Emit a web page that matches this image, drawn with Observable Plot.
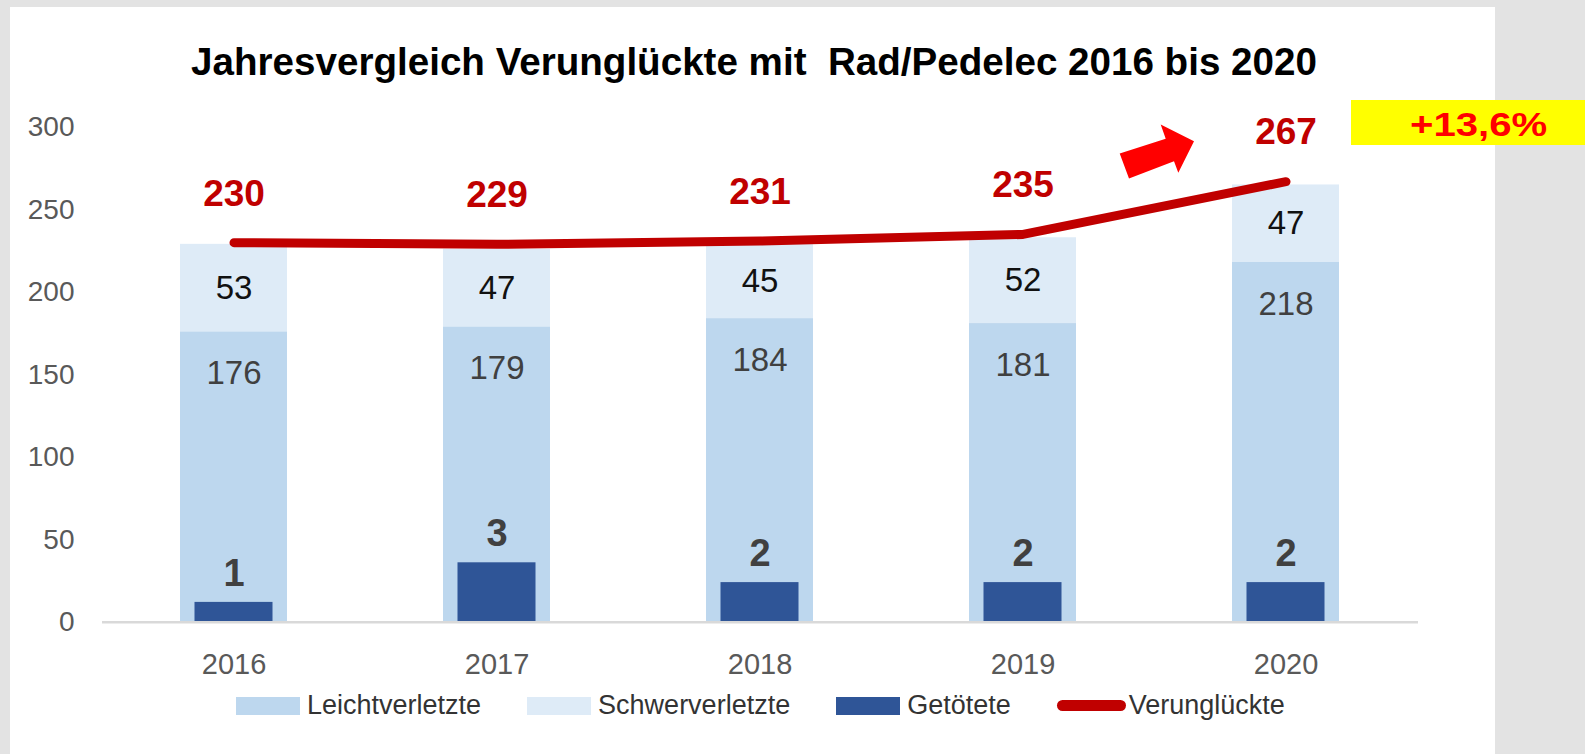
<!DOCTYPE html>
<html>
<head>
<meta charset="utf-8">
<script src="https://cdn.jsdelivr.net/npm/d3@7"></script>
<script src="https://cdn.jsdelivr.net/npm/@observablehq/plot@0.6"></script>
<style>
  html, body { margin: 0; padding: 0; }
  body { width: 1585px; height: 754px; background: #e3e3e3; overflow: hidden; position: relative;
         font-family: "Liberation Sans", Arial, sans-serif; }
  #panel { position: absolute; left: 10px; top: 7px; width: 1485px; height: 747px; background: #ffffff; }
  #chart { position: absolute; left: 0; top: 0; }
  #title { position: absolute; left: 0; width: 1508px; top: 43px; text-align: center; font-weight: bold;
           font-size: 38.6px; line-height: 38px; color: #000; white-space: pre; }
  #legend { position: absolute; left: 236px; top: 692px; height: 27px; display: flex; align-items: center; }
  .item { display: flex; align-items: center; margin-right: 46px; }
  .swatch { width: 64px; height: 18px; margin-right: 7px; }
  .lineSwatch { width: 69px; height: 11px; border-radius: 6px; margin-right: 3px; }
  .lab { font-size: 27px; line-height: 27px; color: #333; }
  #badge { position: absolute; left: 1351px; top: 100px; width: 234px; height: 45px; background: #ffff00; }
  #badge span { position: absolute; left: 59px; top: 7px; font-size: 34px; line-height: 34px; font-weight: bold;
                color: #ff0000; transform: scaleX(1.18); transform-origin: left center; white-space: nowrap; }
</style>
</head>
<body>
<div id="panel"></div>
<div id="chart"></div>
<div id="title"></div>
<div id="legend"></div>
<div id="badge"><span></span></div>
<script>
// ---- data ----
const title = "Jahresvergleich Verunglückte mit  Rad/Pedelec 2016 bis 2020";
const years = ["2016", "2017", "2018", "2019", "2020"];
const leichtverletzte = [176, 179, 184, 181, 218];
const schwerverletzte = [53, 47, 45, 52, 47];
const getoetete = [1, 3, 2, 2, 2];
const verunglueckte = [230, 229, 231, 235, 267];
const yTicks = [0, 50, 100, 150, 200, 250, 300];
const seriesNames = ["Leichtverletzte", "Schwerverletzte", "Getötete", "Verunglückte"];
const seriesColors = ["#bdd7ee", "#deebf7", "#2f5597", "#c00000"];
const changeLabel = "+13,6%";
const primaryMax = 300;
const secondaryMax = 25;   // secondary axis used for Getötete
const arrowLevel = 285;    // vertical level of the trend arrow (primary units)

// ---- tables built from the arrays ----
const factor = primaryMax / secondaryMax;
const rows = years.map((year, i) => ({
  year, leicht: leichtverletzte[i], schwer: schwerverletzte[i],
  tot: getoetete[i], total: verunglueckte[i]
}));
const stackRows = years.flatMap((year, i) => [
  {year, type: seriesNames[0], value: leichtverletzte[i]},
  {year, type: seriesNames[1], value: schwerverletzte[i]}
]);

const arrowShape = [[-37.3, 2], [8.7, -12.7], [3.7, -27], [37, -10.3], [21.3, 21.3], [17, 9.7], [-28, 27]];
function arrowMark(index, scales) {
  const x = scales.x, y = scales.y;
  const bw = x.bandwidth ? x.bandwidth() : 0;
  const cx = (x(years[3]) + x(years[4])) / 2 + bw / 2 + 3;
  const cy = y(arrowLevel);
  const path = d3.create("svg:path")
    .attr("d", "M" + arrowShape.map(([a, b]) => (cx + a) + "," + (cy + b)).join("L") + "Z")
    .attr("fill", "#ff0000");
  return path.node();
}

const plot = Plot.plot({
  width: 1585,
  height: 754,
  marginLeft: 102,
  marginRight: 167,
  marginTop: 126.7,
  marginBottom: 132.3,
  style: {background: "transparent", fontFamily: "Liberation Sans, Arial, sans-serif", overflow: "visible"},
  x: {domain: years, paddingInner: 0.593, paddingOuter: 0.2965, label: null},
  y: {domain: [0, primaryMax], label: null},
  color: {domain: seriesNames.slice(0, 2), range: seriesColors.slice(0, 2)},
  marks: [
    Plot.barY(stackRows, {x: "year", y: "value", fill: "type"}),
    Plot.barY(rows, {x: "year", y: d => d.tot * factor, fill: seriesColors[2], insetLeft: 14.5, insetRight: 14.5}),
    Plot.ruleY([0], {stroke: "#d9d9d9", strokeWidth: 2.5}),
    Plot.line(rows, {x: "year", y: "total", stroke: seriesColors[3], strokeWidth: 9,
                     strokeLinecap: "round", strokeLinejoin: "round"}),
    Plot.text(rows, {x: "year", y: "total", text: d => String(d.total), dy: -49,
                     fill: seriesColors[3], fontSize: 37, fontWeight: "bold"}),
    Plot.text(rows, {x: "year", y: "leicht", text: d => String(d.leicht), dy: 42, fill: "#404040", fontSize: 33}),
    Plot.text(rows, {x: "year", y: d => d.leicht + d.schwer / 2, text: d => String(d.schwer), fill: "#111", fontSize: 33}),
    Plot.text(rows, {x: "year", y: d => d.tot * factor, text: d => String(d.tot), dy: -29,
                     fill: "#404040", fontSize: 38, fontWeight: "bold"}),
    Plot.axisY({ticks: yTicks, tickSize: 0, tickPadding: 28, fontSize: 28, color: "#595959", label: null}),
    Plot.axisX({tickSize: 0, tickPadding: 31.6, fontSize: 29, color: "#595959", label: null}),
    arrowMark
  ]
});
document.getElementById("chart").appendChild(plot);

// ---- title, legend, badge ----
document.getElementById("title").textContent = title;
const legend = d3.select("#legend");
seriesNames.forEach((name, i) => {
  const item = legend.append("div").attr("class", "item");
  if (i === 3) {
    item.append("div").attr("class", "lineSwatch").style("background", seriesColors[i]);
  } else {
    item.append("div").attr("class", "swatch").style("background", seriesColors[i]);
  }
  item.append("span").attr("class", "lab").text(name);
});
document.querySelector("#badge span").textContent = changeLabel;
</script>
</body>
</html>
